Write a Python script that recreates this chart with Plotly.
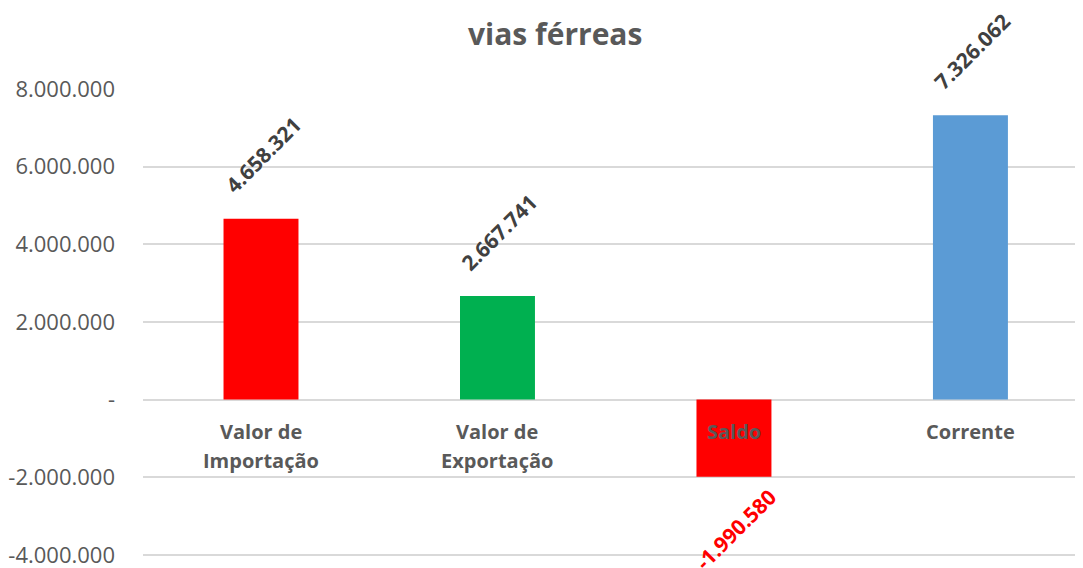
import plotly.graph_objects as go

# ---- data ----
categories = ["Valor de<br>Importação", "Valor de<br>Exportação", "Saldo", "Corrente"]
values = [4658321, 2667741, -1990580, 7326062]
bar_colors = ["#FF0000", "#00B050", "#FF0000", "#5B9BD5"]
label_colors = ["#404040", "#404040", "#FF0000", "#404040"]
tick_values = [-4000000, -2000000, 0, 2000000, 4000000, 6000000, 8000000]
tick_labels = ["-4.000.000", "-2.000.000", "-", "2.000.000", "4.000.000", "6.000.000", "8.000.000"]
title_line1 = "Comércio exterior, corrente de comércio e saldo por"
title_line2 = "vias férreas"


def fmt(v):
    return f"{v:,}".replace(",", ".")


fig = go.Figure()
fig.add_trace(go.Bar(
    x=categories,
    y=values,
    marker=dict(color=bar_colors, line=dict(width=0)),
    width=0.317,
    hoverinfo="skip",
))

annotations = []
# data labels (rotated)
for c, v, col in zip(categories, values, label_colors):
    annotations.append(dict(
        x=c, y=v, xref="x", yref="y",
        text=f"<b>{fmt(v)}</b>", showarrow=False, textangle=-45,
        xanchor="center", yanchor="middle",
        xshift=2,
        yshift=64 if v >= 0 else -52,
        font=dict(family="Open Sans", size=21, color=col),
    ))
# category labels next to the zero line (one annotation per text line)
for c in categories:
    for i, line in enumerate(c.split("<br>")):
        annotations.append(dict(
            x=c, y=0, xref="x", yref="y",
            text=f"<b>{line}</b>", showarrow=False,
            xanchor="center", yanchor="middle", yshift=-32 - 29 * i,
            font=dict(family="Open Sans", size=20, color="#595959"),
        ))
# title (first line mostly outside the visible area)
title_x = (555 - 143) / 940
annotations.append(dict(
    x=title_x, y=1, xref="paper", yref="paper",
    text=f"<b>{title_line1}</b>", showarrow=False,
    xanchor="center", yanchor="middle", yshift=103,
    font=dict(family="Open Sans", size=30, color="#595959"),
))
annotations.append(dict(
    x=title_x, y=1, xref="paper", yref="paper",
    text=f"<b>{title_line2}</b>", showarrow=False,
    xanchor="center", yanchor="middle", yshift=56,
    font=dict(family="Open Sans", size=30, color="#595959"),
))

fig.update_layout(
    width=1075, height=560,
    margin=dict(l=135, r=0, t=81, b=12),
    paper_bgcolor="white", plot_bgcolor="white",
    showlegend=False,
    annotations=annotations,
    font=dict(family="Open Sans", color="#595959"),
)
fig.update_xaxes(
    type="category",
    range=[-0.499, 3.476],
    showticklabels=False, showgrid=False, zeroline=False, showline=False,
)
fig.update_yaxes(
    range=[-4030000, 8000000],
    tickvals=tick_values, ticktext=tick_labels,
    tickfont=dict(family="Open Sans", size=22, color="#595959"),
    showgrid=True, gridcolor="#D9D9D9", gridwidth=1.5,
    zeroline=False, showline=False, ticks="",
    ticklabelstandoff=27,
    ticklabeloverflow="allow",
)

fig.write_html("out.html")
